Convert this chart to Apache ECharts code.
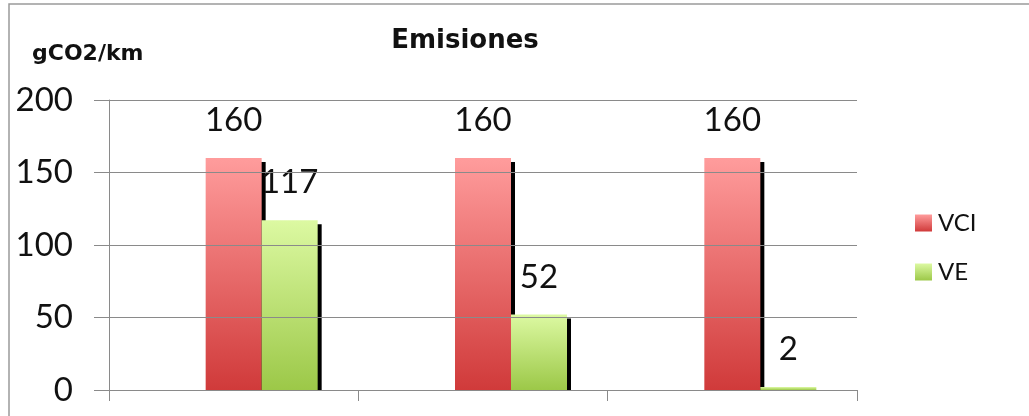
<!DOCTYPE html>
<html>
<head>
<meta charset="utf-8">
<script src="https://cdn.jsdelivr.net/npm/echarts@6/dist/echarts.min.js"></script>
<style>
  html, body { margin: 0; padding: 0; background: #fff; }
  #chart { width: 1029px; height: 416px; }
</style>
</head>
<body>
<div id="chart"></div>
<script>
// Emisiones de CO2 por km: vehículo de combustión interna (VCI) vs. vehículo eléctrico (VE)
const categories = ['Escenario 1', 'Escenario 2', 'Escenario 3'];
const vciValues = [160, 160, 160];
const veValues = [117, 52, 2];
const reservedSlot = [null, null, null]; // empty first slot of each bar group
const yTicks = { min: 0, max: 200, interval: 50 };

const chart = echarts.init(document.getElementById('chart'), null, { renderer: 'canvas' });

const gradient = (top, bottom) => new echarts.graphic.LinearGradient(0, 0, 0, 1, [
  { offset: 0, color: top },
  { offset: 1, color: bottom }
]);

const barShadow = { shadowColor: '#000', shadowOffsetX: 4, shadowOffsetY: 4, shadowBlur: 0 };
const labelStyle = {
  show: true, position: 'top', distance: 21,
  fontFamily: 'Lato', fontSize: 33, color: '#111'
};

const grid = { left: 109, right: 172, top: 100, bottom: 26 };

chart.setOption({
  animation: false,
  backgroundColor: '#fff',
  title: [
    { text: 'Emisiones', left: 460, top: 23, textAlign: 'center',
      textStyle: { fontFamily: 'DejaVu Sans', fontWeight: 'bold', fontSize: 26, color: '#111' } },
    { text: 'gCO2/km', left: 27, top: 38,
      textStyle: { fontFamily: 'DejaVu Sans', fontWeight: 'bold', fontSize: 22, color: '#111' } }
  ],
  legend: {
    data: ['VCI', 'VE'],
    orient: 'vertical',
    left: 910, top: 206,
    itemWidth: 17, itemHeight: 17, itemGap: 25,
    icon: 'rect',
    itemStyle: { shadowColor: 'transparent', shadowOffsetX: 0, shadowOffsetY: 0, shadowBlur: 0 },
    textStyle: { fontFamily: 'Lato', fontSize: 24, color: '#111', padding: [0, 0, 0, 1] }
  },
  grid: grid,
  xAxis: {
    type: 'category',
    data: categories,
    z: 10,
    axisLine: { lineStyle: { color: '#8a8a8a', width: 1 } },
    axisTick: { show: true, length: 11, lineStyle: { color: '#8a8a8a' } },
    axisLabel: { show: false }
  },
  yAxis: {
    type: 'value',
    min: yTicks.min, max: yTicks.max, interval: yTicks.interval,
    z: 10,
    axisLine: { show: true, lineStyle: { color: '#8a8a8a', width: 1 } },
    axisTick: { show: true, length: 15, lineStyle: { color: '#8a8a8a' } },
    axisLabel: { margin: 36, fontFamily: 'Lato', fontSize: 33, color: '#111' },
    splitLine: { lineStyle: { color: '#8a8a8a', width: 1 } }
  },
  series: [
    { name: '', type: 'bar', data: reservedSlot, barWidth: 56, barGap: '0%' },
    {
      name: 'VCI', type: 'bar', data: vciValues, barWidth: 56, barGap: '0%',
      itemStyle: Object.assign({ color: gradient('#ff9c9c', '#d03a3a') }, barShadow),
      label: labelStyle
    },
    {
      name: 'VE', type: 'bar', data: veValues, barWidth: 56, barGap: '0%',
      itemStyle: Object.assign({ color: gradient('#dcf9a2', '#9cc848') }, barShadow),
      label: labelStyle
    }
  ]
});

// White strip under the category axis hides the drop shadows below the baseline,
// plus the outer frame of the chart.
const base = chart.convertToPixel({ yAxisIndex: 0 }, 0);
chart.setOption({
  graphic: [
    { type: 'rect', z: 5, silent: true,
      shape: { x: grid.left + 1, y: base + 0.5, width: 1029 - grid.left - grid.right - 1, height: 6 },
      style: { fill: '#fff' } },
    { type: 'rect', z: 20, silent: true,
      shape: { x: 9, y: 4, width: 1100, height: 500 },
      style: { fill: null, stroke: '#9a9a9a', lineWidth: 1.5 } }
  ]
});
</script>
</body>
</html>
